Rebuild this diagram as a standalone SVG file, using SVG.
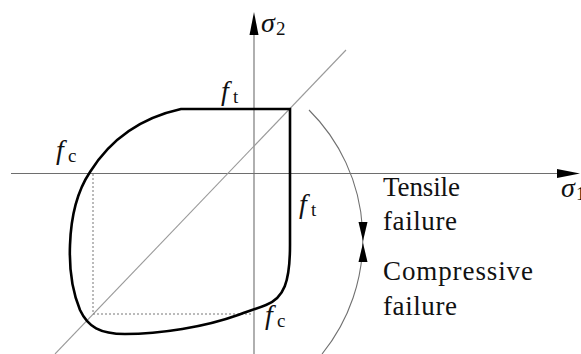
<svg xmlns="http://www.w3.org/2000/svg" width="581" height="354" viewBox="0 0 581 354">
<style>
.axis{stroke:#6e6e6e;stroke-width:1.1;fill:none}
.diag{stroke:#9a9a9a;stroke-width:1.1;fill:none}
.arc{stroke:#707070;stroke-width:1.1;fill:none}
.dot{stroke:#777;stroke-width:1;stroke-dasharray:2 2;fill:none}
.env{stroke:#000;stroke-width:2.6;fill:none;stroke-linejoin:miter}
.head{fill:#000}
.lbl{font-family:"Liberation Serif",serif;font-size:27px;fill:#111}
.it{font-family:"Liberation Serif",serif;font-style:italic;font-size:28px;fill:#111}
.sub{font-family:"Liberation Serif",serif;font-size:19px;fill:#111}
</style>
<g id="connectors">
<line class="axis" x1="11" y1="173.5" x2="560" y2="173.5"/>
<polygon class="head" points="580,173.5 557,169 557,178"/>
<line class="axis" x1="254" y1="33" x2="254" y2="354"/>
<polygon class="head" points="254,12 249.5,35 258.5,35"/>
<line class="diag" x1="55" y1="354" x2="346" y2="50"/>
<path class="arc" d="M 309,110 A 182,182 0 0 1 322,354"/>
<polygon class="head" points="358.5,222 367.5,222 363,241"/>
<polygon class="head" points="358.5,262 367.5,262 363,243"/>
<path class="dot" d="M 93,174 L 93,314 L 253,314"/>
</g>
<g id="envelope">
<path class="env" d="M 181,109 L 290,109 L 290,245 C 290,282 284,298 266,305 C 256,309 248,311 238,315 C 205,327 160,334 125,334 C 100,334 88,327 80,310 C 73,293 69,270 70,245 C 71,215 78,190 90,172 C 110,140 140,118 181,109 Z"/>
</g>
<g id="axis-labels">
<text class="it" x="261" y="32">σ</text><text class="sub" x="276" y="35">2</text>
<text class="it" x="561" y="197">σ</text><text class="sub" x="576" y="200">1</text>
</g>
<g id="strength-labels">
<text class="it" x="221" y="100">f</text><text class="sub" x="233" y="103">t</text>
<text class="it" x="56" y="159">f</text><text class="sub" x="68" y="162">c</text>
<text class="it" x="299" y="213">f</text><text class="sub" x="311" y="216">t</text>
<text class="it" x="265" y="324">f</text><text class="sub" x="277" y="327">c</text>
</g>
<g id="region-labels">
<text class="lbl" x="383" y="196" textLength="77" lengthAdjust="spacing">Tensile</text>
<text class="lbl" x="383" y="230" textLength="74" lengthAdjust="spacing">failure</text>
<text class="lbl" x="383" y="280" textLength="150" lengthAdjust="spacing">Compressive</text>
<text class="lbl" x="383" y="315" textLength="74" lengthAdjust="spacing">failure</text>
</g>
</svg>
